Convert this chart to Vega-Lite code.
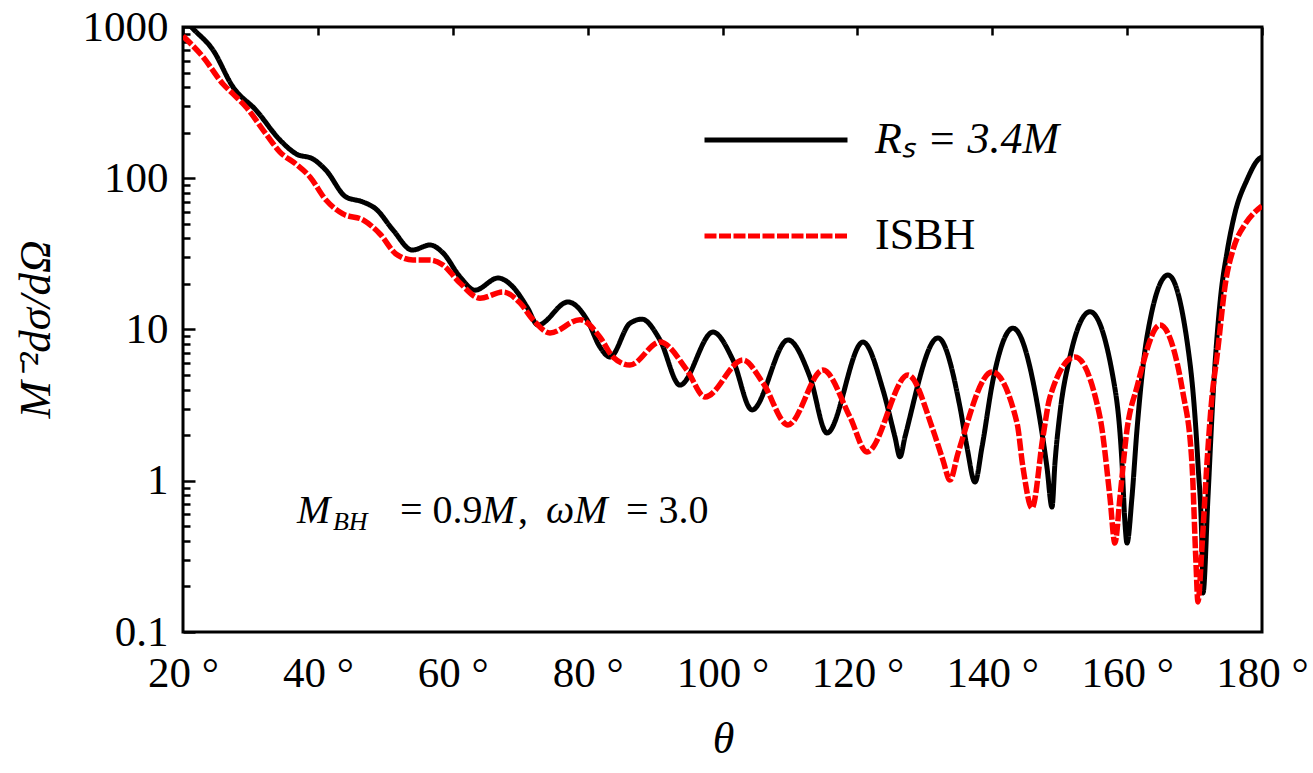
{
  "$schema": "https://vega.github.io/schema/vega-lite/v6.json",
  "width": 1079,
  "height": 605,
  "autosize": "none",
  "padding": {"left": 183, "top": 27, "right": 51, "bottom": 141},
  "config": {
    "view": {"stroke": "black", "strokeWidth": 3},
    "font": "Liberation Serif, Times New Roman, serif",
    "text": {"font": "Liberation Serif, Times New Roman, serif", "color": "black", "align": "left", "baseline": "alphabetic", "fontSize": 40}
  },
  "datasets": {
    "curves": [
      {"theta": 20.00, "value": 1148, "series": "Rₛ = 3.4M"},
      {"theta": 21.48, "value": 975, "series": "Rₛ = 3.4M"},
      {"theta": 24.45, "value": 704, "series": "Rₛ = 3.4M"},
      {"theta": 27.41, "value": 401, "series": "Rₛ = 3.4M"},
      {"theta": 30.82, "value": 282, "series": "Rₛ = 3.4M"},
      {"theta": 34.38, "value": 179, "series": "Rₛ = 3.4M"},
      {"theta": 36.76, "value": 145, "series": "Rₛ = 3.4M"},
      {"theta": 39.28, "value": 134, "series": "Rₛ = 3.4M"},
      {"theta": 41.20, "value": 113, "series": "Rₛ = 3.4M"},
      {"theta": 44.17, "value": 75.2, "series": "Rₛ = 3.4M"},
      {"theta": 46.69, "value": 69.7, "series": "Rₛ = 3.4M"},
      {"theta": 48.62, "value": 62.6, "series": "Rₛ = 3.4M"},
      {"theta": 51.14, "value": 45.5, "series": "Rₛ = 3.4M"},
      {"theta": 54.00, "value": 33.5, "series": "Rₛ = 3.4M"},
      {"theta": 56.63, "value": 36.2, "series": "Rₛ = 3.4M"},
      {"theta": 58.55, "value": 32.1, "series": "Rₛ = 3.4M"},
      {"theta": 61.07, "value": 22.3, "series": "Rₛ = 3.4M"},
      {"theta": 63.30, "value": 18.2, "series": "Rₛ = 3.4M"},
      {"theta": 66.71, "value": 21.9, "series": "Rₛ = 3.4M"},
      {"theta": 68.93, "value": 19.1, "series": "Rₛ = 3.4M"},
      {"theta": 71.01, "value": 14.1, "series": "Rₛ = 3.4M"},
      {"theta": 72.64, "value": 10.7, "series": "Rₛ = 3.4M"},
      {"theta": 77.09, "value": 15.2, "series": "Rₛ = 3.4M"},
      {"theta": 79.91, "value": 11.6, "series": "Rₛ = 3.4M"},
      {"theta": 81.83, "value": 7.66, "series": "Rₛ = 3.4M"},
      {"theta": 83.32, "value": 6.58, "series": "Rₛ = 3.4M"},
      {"theta": 86.28, "value": 11.0, "series": "Rₛ = 3.4M"},
      {"theta": 88.06, "value": 11.7, "series": "Rₛ = 3.4M"},
      {"theta": 90.73, "value": 8.53, "series": "Rₛ = 3.4M"},
      {"theta": 93.69, "value": 4.29, "series": "Rₛ = 3.4M"},
      {"theta": 98.59, "value": 9.61, "series": "Rₛ = 3.4M"},
      {"theta": 101.55, "value": 6.28, "series": "Rₛ = 3.4M"},
      {"theta": 104.37, "value": 2.94, "series": "Rₛ = 3.4M"},
      {"theta": 109.71, "value": 8.53, "series": "Rₛ = 3.4M"},
      {"theta": 112.97, "value": 4.85, "series": "Rₛ = 3.4M"},
      {"theta": 115.49, "value": 2.07, "series": "Rₛ = 3.4M"},
      {"theta": 120.83, "value": 8.26, "series": "Rₛ = 3.4M"},
      {"theta": 123.80, "value": 3.98, "series": "Rₛ = 3.4M"},
      {"theta": 125.57, "value": 1.95, "series": "Rₛ = 3.4M"},
      {"theta": 126.32, "value": 1.44, "series": "Rₛ = 3.4M"},
      {"theta": 127.06, "value": 1.95, "series": "Rₛ = 3.4M"},
      {"theta": 131.95, "value": 8.80, "series": "Rₛ = 3.4M"},
      {"theta": 135.21, "value": 3.08, "series": "Rₛ = 3.4M"},
      {"theta": 136.25, "value": 1.67, "series": "Rₛ = 3.4M"},
      {"theta": 137.44, "value": 0.98, "series": "Rₛ = 3.4M"},
      {"theta": 138.48, "value": 1.67, "series": "Rₛ = 3.4M"},
      {"theta": 140.11, "value": 4.63, "series": "Rₛ = 3.4M"},
      {"theta": 143.07, "value": 10.2, "series": "Rₛ = 3.4M"},
      {"theta": 147.08, "value": 2.52, "series": "Rₛ = 3.4M"},
      {"theta": 148.11, "value": 1.23, "series": "Rₛ = 3.4M"},
      {"theta": 148.86, "value": 0.67, "series": "Rₛ = 3.4M"},
      {"theta": 149.30, "value": 1.31, "series": "Rₛ = 3.4M"},
      {"theta": 150.04, "value": 2.80, "series": "Rₛ = 3.4M"},
      {"theta": 151.52, "value": 6.58, "series": "Rₛ = 3.4M"},
      {"theta": 154.49, "value": 13.1, "series": "Rₛ = 3.4M"},
      {"theta": 157.90, "value": 4.85, "series": "Rₛ = 3.4M"},
      {"theta": 159.24, "value": 1.31, "series": "Rₛ = 3.4M"},
      {"theta": 159.68, "value": 0.526, "series": "Rₛ = 3.4M"},
      {"theta": 159.98, "value": 0.387, "series": "Rₛ = 3.4M"},
      {"theta": 160.72, "value": 0.78, "series": "Rₛ = 3.4M"},
      {"theta": 161.46, "value": 2.17, "series": "Rₛ = 3.4M"},
      {"theta": 162.94, "value": 8.91, "series": "Rₛ = 3.4M"},
      {"theta": 166.06, "value": 22.9, "series": "Rₛ = 3.4M"},
      {"theta": 169.32, "value": 6.00, "series": "Rₛ = 3.4M"},
      {"theta": 170.50, "value": 1.31, "series": "Rₛ = 3.4M"},
      {"theta": 171.10, "value": 0.365, "series": "Rₛ = 3.4M"},
      {"theta": 171.25, "value": 0.181, "series": "Rₛ = 3.4M"},
      {"theta": 171.99, "value": 0.78, "series": "Rₛ = 3.4M"},
      {"theta": 172.73, "value": 3.58, "series": "Rₛ = 3.4M"},
      {"theta": 173.86, "value": 16.4, "series": "Rₛ = 3.4M"},
      {"theta": 174.80, "value": 32.1, "series": "Rₛ = 3.4M"},
      {"theta": 175.99, "value": 58.9, "series": "Rₛ = 3.4M"},
      {"theta": 177.76, "value": 97.3, "series": "Rₛ = 3.4M"},
      {"theta": 179.70, "value": 136, "series": "Rₛ = 3.4M"},
      {"theta": 180.00, "value": 138, "series": "Rₛ = 3.4M"},

      {"theta": 20.00, "value": 871, "series": "ISBH"},
      {"theta": 22.97, "value": 634, "series": "ISBH"},
      {"theta": 25.93, "value": 420, "series": "ISBH"},
      {"theta": 27.41, "value": 361, "series": "ISBH"},
      {"theta": 29.34, "value": 296, "series": "ISBH"},
      {"theta": 32.31, "value": 196, "series": "ISBH"},
      {"theta": 34.38, "value": 149, "series": "ISBH"},
      {"theta": 36.76, "value": 124, "series": "ISBH"},
      {"theta": 38.83, "value": 102, "series": "ISBH"},
      {"theta": 41.20, "value": 71.8, "series": "ISBH"},
      {"theta": 43.72, "value": 58.1, "series": "ISBH"},
      {"theta": 46.69, "value": 53.0, "series": "ISBH"},
      {"theta": 49.21, "value": 42.8, "series": "ISBH"},
      {"theta": 51.58, "value": 31.6, "series": "ISBH"},
      {"theta": 54.10, "value": 28.8, "series": "ISBH"},
      {"theta": 56.63, "value": 28.8, "series": "ISBH"},
      {"theta": 58.55, "value": 26.7, "series": "ISBH"},
      {"theta": 61.07, "value": 20.3, "series": "ISBH"},
      {"theta": 64.04, "value": 16.1, "series": "ISBH"},
      {"theta": 67.45, "value": 17.7, "series": "ISBH"},
      {"theta": 69.97, "value": 15.0, "series": "ISBH"},
      {"theta": 71.90, "value": 11.6, "series": "ISBH"},
      {"theta": 74.42, "value": 9.49, "series": "ISBH"},
      {"theta": 78.87, "value": 11.6, "series": "ISBH"},
      {"theta": 81.83, "value": 8.91, "series": "ISBH"},
      {"theta": 83.76, "value": 6.58, "series": "ISBH"},
      {"theta": 86.28, "value": 5.82, "series": "ISBH"},
      {"theta": 90.73, "value": 8.26, "series": "ISBH"},
      {"theta": 94.73, "value": 5.39, "series": "ISBH"},
      {"theta": 97.40, "value": 3.58, "series": "ISBH"},
      {"theta": 103.04, "value": 6.28, "series": "ISBH"},
      {"theta": 106.00, "value": 4.43, "series": "ISBH"},
      {"theta": 109.71, "value": 2.34, "series": "ISBH"},
      {"theta": 114.90, "value": 5.39, "series": "ISBH"},
      {"theta": 118.90, "value": 2.64, "series": "ISBH"},
      {"theta": 121.42, "value": 1.55, "series": "ISBH"},
      {"theta": 127.50, "value": 5.00, "series": "ISBH"},
      {"theta": 131.21, "value": 2.17, "series": "ISBH"},
      {"theta": 132.69, "value": 1.37, "series": "ISBH"},
      {"theta": 133.73, "value": 1.01, "series": "ISBH"},
      {"theta": 134.92, "value": 1.52, "series": "ISBH"},
      {"theta": 139.96, "value": 5.24, "series": "ISBH"},
      {"theta": 143.67, "value": 2.41, "series": "ISBH"},
      {"theta": 144.55, "value": 1.23, "series": "ISBH"},
      {"theta": 145.89, "value": 0.66, "series": "ISBH"},
      {"theta": 147.52, "value": 1.95, "series": "ISBH"},
      {"theta": 148.56, "value": 3.58, "series": "ISBH"},
      {"theta": 152.26, "value": 6.58, "series": "ISBH"},
      {"theta": 155.97, "value": 2.64, "series": "ISBH"},
      {"theta": 157.45, "value": 0.78, "series": "ISBH"},
      {"theta": 158.19, "value": 0.387, "series": "ISBH"},
      {"theta": 158.94, "value": 0.78, "series": "ISBH"},
      {"theta": 159.98, "value": 2.17, "series": "ISBH"},
      {"theta": 161.46, "value": 4.17, "series": "ISBH"},
      {"theta": 164.87, "value": 10.7, "series": "ISBH"},
      {"theta": 168.28, "value": 3.80, "series": "ISBH"},
      {"theta": 169.61, "value": 1.31, "series": "ISBH"},
      {"theta": 170.21, "value": 0.286, "series": "ISBH"},
      {"theta": 170.50, "value": 0.158, "series": "ISBH"},
      {"theta": 171.10, "value": 0.365, "series": "ISBH"},
      {"theta": 171.84, "value": 1.31, "series": "ISBH"},
      {"theta": 172.58, "value": 3.58, "series": "ISBH"},
      {"theta": 173.32, "value": 6.58, "series": "ISBH"},
      {"theta": 174.65, "value": 21.2, "series": "ISBH"},
      {"theta": 175.70, "value": 33.6, "series": "ISBH"},
      {"theta": 177.60, "value": 50.6, "series": "ISBH"},
      {"theta": 178.80, "value": 58.9, "series": "ISBH"},
      {"theta": 180.00, "value": 65.6, "series": "ISBH"}
    ],
    "note": [
      {"theta": 36.9, "value": 0.526, "symbol": "M", "sub": "BH", "eq1": "= 0.9", "unit1": "M", "comma": ",", "freq": "ωM", "eq2": "= 3.0"}
    ]
  },
  "encoding": {
    "x": {
      "field": "theta",
      "type": "quantitative",
      "scale": {"domain": [20, 180], "nice": false, "zero": false},
      "axis": {
        "values": [20, 40, 60, 80, 100, 120, 140, 160, 180],
        "labelExpr": "datum.value + ' °'",
        "domain": false,
        "ticks": false,
        "grid": true,
        "gridColor": "black",
        "gridOpacity": 1,
        "gridWidth": 2.5,
        "gridDash": [8, 3000],
        "labelFont": "Liberation Serif, Times New Roman, serif",
        "labelFontSize": 43,
        "labelColor": "black",
        "labelPadding": 20,
        "labelFlush": false,
        "labelOverlap": false,
        "title": "θ",
        "titleFont": "Liberation Serif, Times New Roman, serif",
        "titleFontSize": 44,
        "titleFontStyle": "italic",
        "titleFontWeight": "normal",
        "titleColor": "black",
        "titleX": 540,
        "titleY": 107,
        "titleAlign": "center",
        "titleBaseline": "middle"
      }
    },
    "y": {
      "field": "value",
      "type": "quantitative",
      "scale": {"type": "log", "domain": [0.1, 1000], "nice": false},
      "axis": {
        "values": [0.1, 0.2, 0.3, 0.4, 0.5, 0.6, 0.7, 0.8, 0.9, 1, 2, 3, 4, 5, 6, 7, 8, 9, 10, 20, 30, 40, 50, 60, 70, 80, 90, 100, 200, 300, 400, 500, 600, 700, 800, 900, 1000],
        "labelExpr": "datum.value == 0.1 ? '0.1' : datum.value == 1 ? '1' : datum.value == 10 ? '10' : datum.value == 100 ? '100' : datum.value == 1000 ? '1000' : ''",
        "domain": false,
        "ticks": false,
        "grid": true,
        "gridColor": "black",
        "gridOpacity": 1,
        "gridWidth": 2.5,
        "gridDash": {"condition": {"test": "datum.value == 0.1 || datum.value == 1 || datum.value == 10 || datum.value == 100 || datum.value == 1000", "value": [12, 3000]}, "value": [7, 3000]},
        "labelFont": "Liberation Serif, Times New Roman, serif",
        "labelFontSize": 43,
        "labelColor": "black",
        "labelPadding": 15,
        "labelOverlap": false,
        "labelFlush": false,
        "title": "M⁻²dσ/dΩ",
        "titleFont": "Liberation Serif, Times New Roman, serif",
        "titleFontSize": 45,
        "titleFontStyle": "italic",
        "titleFontWeight": "normal",
        "titleColor": "black",
        "titleX": -148,
        "titleY": 302,
        "titleAlign": "center",
        "titleBaseline": "middle"
      }
    }
  },
  "layer": [
    {
      "data": {"name": "curves"},
      "transform": [{"filter": "datum.series !== 'ISBH'"}],
      "mark": {"type": "line", "interpolate": "monotone", "strokeWidth": 5, "clip": true},
      "encoding": {
        "color": {
          "field": "series", "type": "nominal",
          "scale": {"domain": ["Rₛ = 3.4M", "ISBH"], "range": ["#000000", "#ff0000"]},
          "legend": {
            "title": null, "orient": "none", "legendX": 519, "legendY": 39,
            "symbolType": "stroke", "symbolSize": 20449, "symbolStrokeWidth": 5,
            "labelFont": "Liberation Serif, Times New Roman, serif", "labelFontSize": 44, "labelColor": "black",
            "labelOffset": 25, "labelLimit": 400, "rowPadding": -63, "padding": 0,
            "encode": {"labels": {"update": {"fontStyle": {"signal": "datum.label == 'ISBH' ? 'normal' : 'italic'"}}}}
          }
        },
        "strokeDash": {
          "field": "series", "type": "nominal",
          "scale": {"domain": ["Rₛ = 3.4M", "ISBH"], "range": [[1, 0], [12, 2.5]]},
          "legend": {
            "title": null, "orient": "none", "legendX": 519, "legendY": 39,
            "symbolType": "stroke", "symbolSize": 20449, "symbolStrokeWidth": 5,
            "labelFont": "Liberation Serif, Times New Roman, serif", "labelFontSize": 44, "labelColor": "black",
            "labelOffset": 25, "labelLimit": 400, "rowPadding": -63, "padding": 0,
            "encode": {"labels": {"update": {"fontStyle": {"signal": "datum.label == 'ISBH' ? 'normal' : 'italic'"}}}}
          }
        }
      }
    },
    {
      "data": {"name": "curves"},
      "transform": [{"filter": "datum.series === 'ISBH'"}],
      "mark": {"type": "line", "interpolate": "monotone", "strokeWidth": 5.5, "clip": true},
      "encoding": {
        "color": {"field": "series", "type": "nominal"},
        "strokeDash": {"field": "series", "type": "nominal"}
      }
    },
    {
      "data": {"name": "note"},
      "mark": {"type": "text", "fontStyle": "italic"},
      "encoding": {"text": {"field": "symbol"}}
    },
    {
      "data": {"name": "note"},
      "mark": {"type": "text", "fontSize": 26, "fontStyle": "italic", "dx": 36, "dy": 7},
      "encoding": {"text": {"field": "sub"}}
    },
    {
      "data": {"name": "note"},
      "mark": {"type": "text", "dx": 103},
      "encoding": {"text": {"field": "eq1"}}
    },
    {
      "data": {"name": "note"},
      "mark": {"type": "text", "fontStyle": "italic", "dx": 185},
      "encoding": {"text": {"field": "unit1"}}
    },
    {
      "data": {"name": "note"},
      "mark": {"type": "text", "dx": 221},
      "encoding": {"text": {"field": "comma"}}
    },
    {
      "data": {"name": "note"},
      "mark": {"type": "text", "fontStyle": "italic", "dx": 249},
      "encoding": {"text": {"field": "freq"}}
    },
    {
      "data": {"name": "note"},
      "mark": {"type": "text", "dx": 329},
      "encoding": {"text": {"field": "eq2"}}
    }
  ]
}
